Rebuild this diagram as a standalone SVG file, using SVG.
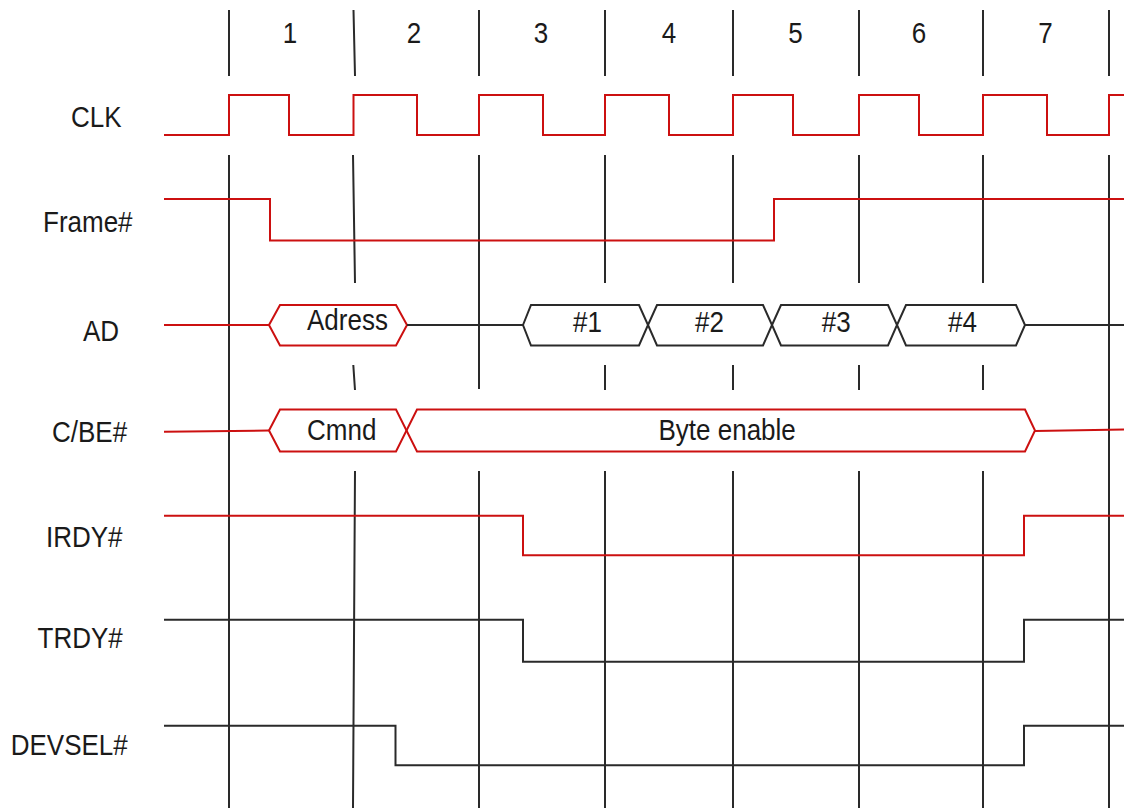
<svg xmlns="http://www.w3.org/2000/svg" width="1124" height="808" viewBox="0 0 1124 808">
<style>
.bg{fill:#ffffff}
.grid{stroke:#2a2a2a;stroke-width:2;fill:none}
.red{stroke:#cc1010;stroke-width:2;fill:none;stroke-linejoin:miter}
.blk{stroke:#2a2a2a;stroke-width:2;fill:none;stroke-linejoin:miter}
text{font-family:"Liberation Sans",Arial,sans-serif;font-size:26px;fill:#1a1a1a}
.num{text-anchor:middle}
</style>
<rect class="bg" x="0" y="0" width="1124" height="808"/>
<g id="grid">
<path class="grid" d="M229,10V76M353.5,10L355,76M479,10V76M605,10V76M733,10V76M859,10V76M983,10V76M1109,10V76"/>
<path class="grid" d="M229,155V808M1109,155V808M479,155V389"/>
<path class="grid" d="M353,155L355,283M605,155V283M733,155V283M859,155V283M983,155V283"/>
<path class="grid" d="M353.3,365L355,390M605,365V390M733,365V390M859,365V390M983,365V390"/>
<path class="grid" d="M355,471L353,808M479,471V808M605,471V808M733,471V808M859,471V808M983,471V808"/>
</g>
<g id="cycle-numbers">
<text class="num" transform="translate(290,43) scale(1,1.1)">1</text>
<text class="num" transform="translate(414,43) scale(1,1.1)">2</text>
<text class="num" transform="translate(541,43) scale(1,1.1)">3</text>
<text class="num" transform="translate(669,43) scale(1,1.1)">4</text>
<text class="num" transform="translate(795.5,43) scale(1,1.1)">5</text>
<text class="num" transform="translate(919,43) scale(1,1.1)">6</text>
<text class="num" transform="translate(1045.5,43) scale(1,1.1)">7</text>
</g>
<g id="labels">
<text transform="translate(71,126.7) scale(1,1.1)">CLK</text>
<text transform="translate(43,232) scale(1,1.1)">Frame#</text>
<text transform="translate(83,340.7) scale(1,1.1)">AD</text>
<text transform="translate(52,441.7) scale(1,1.1)">C/BE#</text>
<text transform="translate(46,546.7) scale(1,1.1)">IRDY#</text>
<text transform="translate(37.5,648) scale(1,1.1)">TRDY#</text>
<text transform="translate(10.7,755) scale(1,1.1)">DEVSEL#</text>
</g>
<g id="connectors">
<g id="sig-clk">
<path class="red" d="M164,135H229V95H289V135H353.5V95H417V135H479V95H543V135H605V95H669V135H733V95H793V135H859V95H919V135H983V95H1047V135H1109V95H1124"/>
</g>
<g id="sig-frame">
<path class="red" d="M164,199H270V240.5H774V199H1124"/>
</g>
<g id="sig-ad">
<path class="red" d="M164,325H269"/>
<path class="red" d="M269,325L280,305H396L407,325L396,345.5H280Z"/>
<path class="blk" d="M407,325H523"/>
<path class="blk" d="M523,325L531,305H639L648,325L639,345.5H531Z"/>
<path class="blk" d="M648,325L657,305H763L772,325L763,345.5H657Z"/>
<path class="blk" d="M772,325L781,305H888L897,325L888,345.5H781Z"/>
<path class="blk" d="M897,325L906,305H1016L1025,325L1016,345.5H906Z"/>
<path class="blk" d="M1025,325H1124"/>
<text transform="translate(307,330) scale(1,1.1)">Adress</text>
<text transform="translate(573,331.7) scale(1,1.1)">#1</text>
<text transform="translate(695,331.7) scale(1,1.1)">#2</text>
<text transform="translate(821.7,331.7) scale(1,1.1)">#3</text>
<text transform="translate(948,331.7) scale(1,1.1)">#4</text>
</g>
<g id="sig-cbe">
<path class="red" d="M164,431.7L269,430.5"/>
<path class="red" d="M269,430.5L280,409.5H396L406.5,430.5L396,451.5H280Z"/>
<path class="red" d="M406.5,430.5L417,409.5H1025L1035,430.5L1025,451.5H417Z"/>
<path class="red" d="M1035,431L1124,429.5"/>
<text transform="translate(307,440) scale(1,1.1)">Cmnd</text>
<text transform="translate(658.5,440) scale(1,1.1)">Byte enable</text>
</g>
<g id="sig-irdy">
<path class="red" d="M164,515.7H523V555.3H1024V515.7H1124"/>
</g>
<g id="sig-trdy">
<path class="blk" d="M164,619.7H523V661.7H1024V619.7H1124"/>
</g>
<g id="sig-devsel">
<path class="blk" d="M164,725.7H395.5V765.3H1024V725.7H1124"/>
</g>
</g>
</svg>
